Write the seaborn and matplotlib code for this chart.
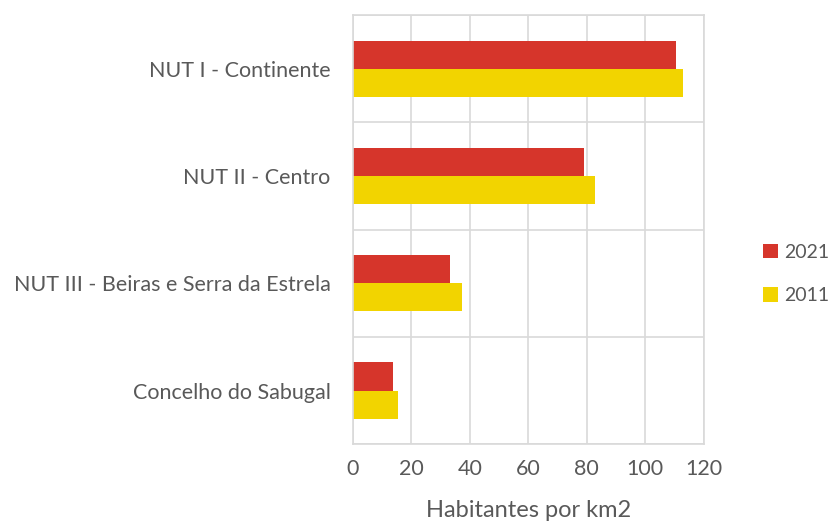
import matplotlib
matplotlib.use("Agg")
from matplotlib import pyplot as plt
import pandas as pd
import seaborn as sb

# data
regions = ['NUT I - Continente', 'NUT II - Centro',
           'NUT III - Beiras e Serra da Estrela', 'Concelho do Sabugal']
dens_2021 = [110.6, 79.1, 33.4, 13.8]
dens_2011 = [112.8, 82.7, 37.5, 15.3]
years = ['2021', '2011']
xticks = [0, 20, 40, 60, 80, 100, 120]

df = pd.DataFrame({
    'regiao': regions * 2,
    'ano': ['2021'] * len(regions) + ['2011'] * len(regions),
    'dens': dens_2021 + dens_2011,
})

sb.set_style('white')
plt.rcParams['font.family'] = ['Lato', 'DejaVu Sans']
grey_txt = '#595959'
grey_line = '#D9D9D9'

fig = plt.figure(figsize=(8.32, 5.25), dpi=100)
ax = fig.add_axes([0.424, 0.154, 0.422, 0.817])

sb.barplot(data=df, y='regiao', x='dens', hue='ano', hue_order=years,
           order=regions, orient='h', palette=['#D6352B', '#F2D400'],
           width=0.525, gap=0, errorbar=None, saturation=1, linewidth=0,
           ax=ax)

ax.set_xlim(0, 120)
ax.set_ylim(len(regions) - 0.5, -0.5)
ax.set_xticks(xticks)
ax.set_yticks(range(len(regions)))
ax.set_yticks([i - 0.5 for i in range(len(regions) + 1)], minor=True)
ax.grid(True, axis='x', color=grey_line, lw=1.2)
ax.grid(True, axis='y', which='minor', color=grey_line, lw=1.2)
ax.grid(False, axis='y', which='major')
ax.set_axisbelow(True)
for s in ax.spines.values():
    s.set_color(grey_line)
    s.set_linewidth(1.2)

ax.tick_params(axis='both', which='both', length=0, colors=grey_txt,
               labelsize=15.5)
ax.tick_params(axis='x', pad=11)
ax.tick_params(axis='y', pad=16)
ax.set_ylabel('')
ax.set_xlabel('Habitantes por km2', fontsize=17, color=grey_txt, labelpad=15)

h, l = ax.get_legend_handles_labels()
ax.legend(h, l, loc='center left', bbox_to_anchor=(0.915, 0.478),
          bbox_transform=fig.transFigure, frameon=False, fontsize=14,
          handlelength=0.75, handleheight=0.75, handletextpad=0.3,
          labelspacing=1.35, labelcolor=grey_txt, borderpad=0.1,
          borderaxespad=0)

fig.savefig('out.png', dpi=100)
